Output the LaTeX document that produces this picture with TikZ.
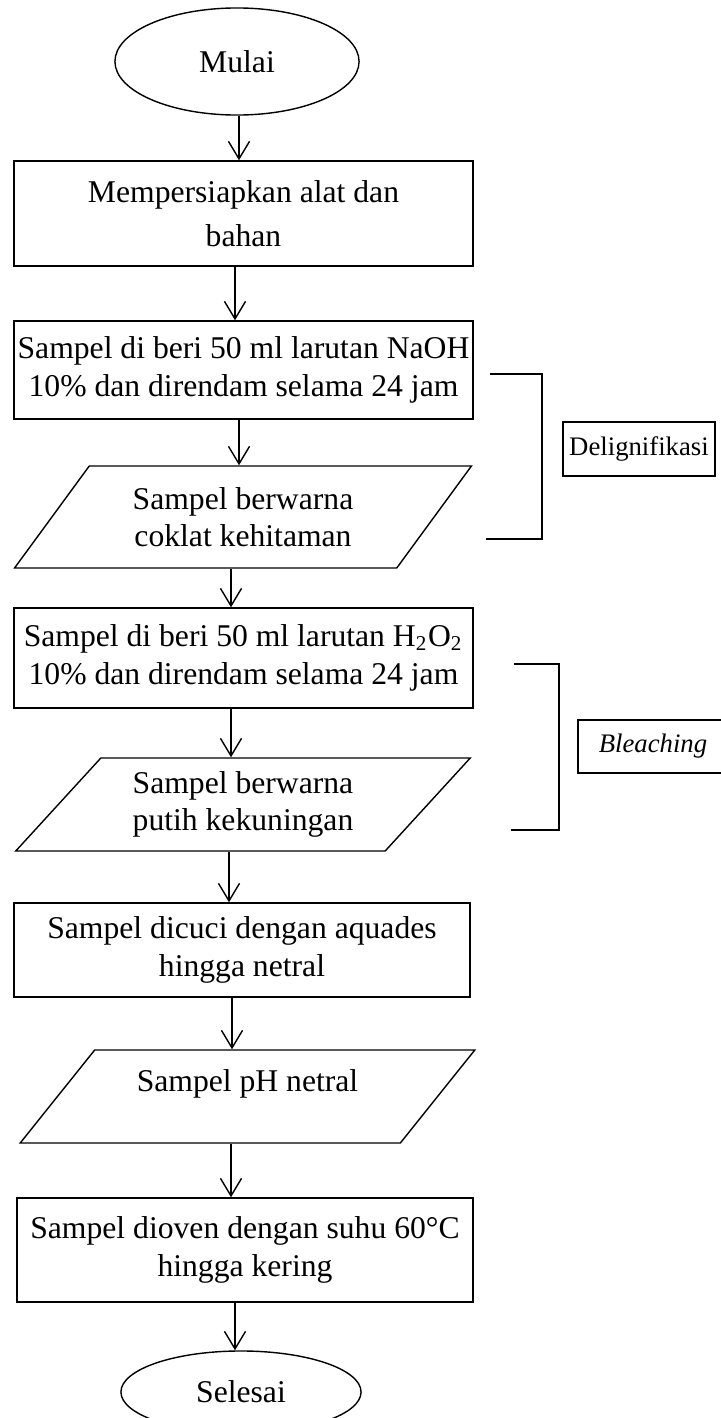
\documentclass[tikz,border=0pt]{standalone}
\usepackage{fontspec}
\setmainfont{Liberation Serif}
\usetikzlibrary{shapes.geometric,arrows.meta}

\tikzset{
  proses/.style={draw, rectangle, align=center, inner sep=0pt, font=\fontsize{9}{10.6}\selectfont},
  data/.style={draw, trapezium, trapezium left angle=45, trapezium right angle=135, trapezium stretches=true, minimum width=4.58cm, align=center, inner sep=0pt, font=\fontsize{9}{10.6}\selectfont},
  terminal/.style={draw, ellipse, inner sep=0pt, font=\fontsize{9}{10.6}\selectfont},
  ket/.style={draw, rectangle, inner sep=0pt, font=\fontsize{7.6}{9}\selectfont},
  panah/.style={-{Straight Barb[length=5pt,width=6pt]}},
  kurung/.style={line width=0.6pt}
}

\begin{document}
\begin{tikzpicture}[x=0.01cm, y=-0.01cm, line width=0.4pt]
    \useasboundingbox (0,0) rectangle (720,1418);
    % alur utama
    \node[terminal, minimum width=2.44cm, minimum height=1.07cm] (mulai) at (237,61.5) {Mulai};
    \node[proses, minimum width=4.59cm, minimum height=1.05cm, font=\fontsize{9}{12.5}\selectfont] (alat) at (243.5,213.5) {Mempersiapkan alat dan\\bahan};
    \node[proses, minimum width=4.59cm, minimum height=0.98cm] (naoh) at (243.5,370) {Sampel di beri 50 ml larutan NaOH\\10\% dan direndam selama 24 jam};
    \node[data, trapezium left angle=48, trapezium right angle=132, minimum height=1.02cm] (coklat) at (243,517) {Sampel berwarna\\coklat kehitaman};
    \node[proses, minimum width=4.59cm, minimum height=1.0cm] (hoo) at (243.5,658) {Sampel di beri 50 ml larutan H\textsubscript{2}O\textsubscript{2}\\10\% dan direndam selama 24 jam};
    \node[data, minimum height=0.93cm] (kuning) at (243,804.5) {Sampel berwarna\\putih kekuningan};
    \node[proses, minimum width=4.56cm, minimum height=0.94cm] (cuci) at (242,950) {Sampel dicuci dengan aquades\\hingga netral};
    \node[data, minimum height=0.93cm, text depth=0.32cm] (netral) at (247.5,1096.5) {Sampel pH netral};
    \node[proses, minimum width=4.56cm, minimum height=1.04cm] (oven) at (245,1250) {Sampel dioven dengan suhu 60°C\\hingga kering};
    \node[terminal, minimum width=2.40cm, minimum height=0.82cm] (selesai) at (241,1392) {Selesai};

    \draw[panah] (mulai.south -| 239,0) -- (alat.north -| 239,0);
    \draw[panah] (alat.south -| 235,0) -- (naoh.north -| 235,0);
    \draw[panah] (naoh.south -| 239,0) -- (coklat.north -| 239,0);
    \draw[panah] (coklat.south -| 231,0) -- (hoo.north -| 231,0);
    \draw[panah] (hoo.south -| 231,0) -- (kuning.north -| 231,0);
    \draw[panah] (kuning.south -| 229,0) -- (cuci.north -| 229,0);
    \draw[panah] (cuci.south -| 232,0) -- (netral.north -| 232,0);
    \draw[panah] (netral.south -| 231,0) -- (oven.north -| 231,0);
    \draw[panah] (oven.south -| 235,0) -- (selesai.north -| 235,0);

    % tahap
    \node[ket, minimum width=1.52cm, minimum height=0.54cm] (delig) at (639,449) {Delignifikasi};
    \node[ket, minimum width=1.50cm, minimum height=0.53cm] (bleach) at (653,746.5) {\textit{Bleaching}};
    \draw[kurung] (490,374) -- (542,374) -- (542,539) -- (486,539);
    \draw[kurung] (514,664) -- (559,664) -- (559,830) -- (511,830);
\end{tikzpicture}
\end{document}
